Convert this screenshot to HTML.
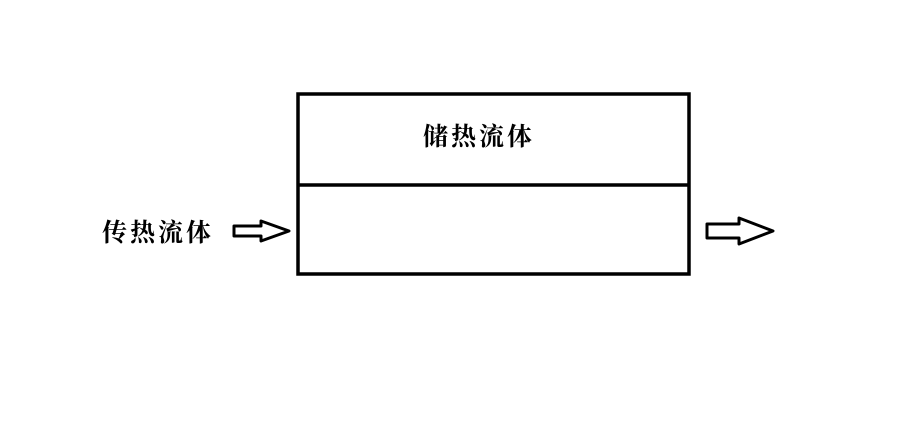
<!DOCTYPE html>
<html><head><meta charset="utf-8"><style>
html,body{margin:0;padding:0;background:#fff;}
body{width:900px;height:430px;position:relative;overflow:hidden;}
.t{position:absolute;font-family:"Liberation Serif","Noto Serif CJK SC",serif;font-size:25px;font-weight:bold;color:#000;letter-spacing:3px;line-height:1;}
</style></head><body>
<svg width="900" height="430" style="position:absolute;left:0;top:0">
<rect x="298" y="94" width="391" height="180" fill="none" stroke="#000" stroke-width="3.5"/>
<line x1="298" y1="185" x2="689" y2="185" stroke="#000" stroke-width="3.5"/>
<polygon points="234,226 261,226 261,221 289,231 261,241 261,236 234,236" fill="#fff" stroke="#000" stroke-width="3" stroke-linejoin="round"/>
<polygon points="707,224 739,224 739,218 773,231 739,244 739,238 707,238" fill="#fff" stroke="#000" stroke-width="3" stroke-linejoin="round"/>
</svg>
<div class="t" style="left:102px;top:221px;">传热流体</div>
<div class="t" style="left:423px;top:125px;">储热流体</div>
</body></html>
